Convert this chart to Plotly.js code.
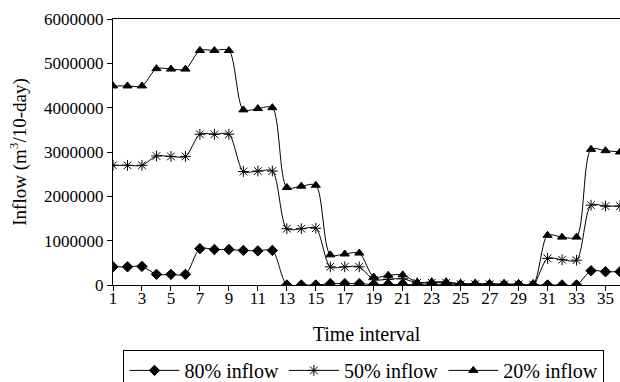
<!DOCTYPE html>
<html>
<head>
<meta charset="utf-8">
<script src="https://cdn.plot.ly/plotly-3.0.1.min.js"></script>
<style>html,body{margin:0;padding:0;background:#fff}#chart{width:620px;height:382px}</style>
</head>
<body>
<div id="chart"></div>
<script>
var intervals = [];
for (var i = 1; i <= 36; i++) intervals.push(i);

var inflow80 = [410000, 410000, 420000, 240000, 240000, 240000, 820000, 800000, 800000, 780000, 770000, 780000,
  0, 0, 0, 30000, 30000, 30000, 10000, 10000, 10000, 5000, 5000, 5000, 5000, 5000, 5000, 5000, 5000, 0,
  0, 0, 0, 320000, 300000, 300000];
var inflow50 = [2700000, 2700000, 2700000, 2910000, 2900000, 2900000, 3400000, 3400000, 3400000, 2560000, 2570000, 2570000,
  1270000, 1270000, 1280000, 410000, 410000, 410000, 120000, 130000, 140000, 50000, 50000, 50000, 20000, 20000, 20000, 15000, 15000, 10000,
  600000, 570000, 560000, 1800000, 1780000, 1780000];
var inflow20 = [4490000, 4490000, 4490000, 4880000, 4870000, 4870000, 5290000, 5290000, 5290000, 3950000, 3980000, 4000000,
  2200000, 2230000, 2250000, 680000, 700000, 720000, 180000, 220000, 230000, 60000, 70000, 70000, 30000, 30000, 30000, 20000, 20000, 10000,
  1120000, 1080000, 1080000, 3060000, 3030000, 3000000];

var xTicks = [1,3,5,7,9,11,13,15,17,19,21,23,25,27,29,31,33,35];
var yTicks = [0,1000000,2000000,3000000,4000000,5000000,6000000];
var seriesNames = ['80% inflow', '50% inflow', '20% inflow'];

var fam = '"Liberation Serif", "Times New Roman", serif';
var tickFont = {family: fam, size: 17, color: '#000'};
var titleFont = {family: fam, size: 20, color: '#000'};
var yTitleFont = {family: fam, size: 19, color: '#000'};
var legFont = {family: fam, size: 20, color: '#000'};

function mk(y, name, sym, size) {
  return {
    x: intervals, y: y, name: name, type: 'scatter', mode: 'lines+markers',
    line: {color: '#000', width: 1, shape: 'spline', smoothing: 0.8},
    marker: {symbol: sym, size: size, color: '#000', line: {color: '#000', width: 1}}
  };
}

var data = [
  mk(inflow80, seriesNames[0], 'diamond', 8),
  mk(inflow50, seriesNames[1], 'asterisk-open', 9),
  mk(inflow20, seriesNames[2], 'triangle-up', 8)
];

var layout = {
  width: 620, height: 382,
  margin: {l: 113, r: 0, t: 19, b: 97, autoexpand: false},
  paper_bgcolor: '#fff', plot_bgcolor: '#fff',
  font: tickFont,
  showlegend: true,
  legend: {
    orientation: 'h', x: 0.495, xanchor: 'center', y: -0.244, yanchor: 'top',
    bordercolor: '#000', borderwidth: 1, font: legFont, tracegroupgap: 0,
    itemwidth: 50, valign: 'top'
  },
  xaxis: {
    range: [1, 36], tickvals: xTicks, ticktext: xTicks.map(String),
    ticks: 'outside', ticklen: 5, tickcolor: '#000', showgrid: false, zeroline: false,
    showline: true, linecolor: '#000', linewidth: 1, mirror: true,
    ticklabelstandoff: -7,
    tickfont: tickFont, title: {text: 'Time interval', font: titleFont, standoff: 19}
  },
  yaxis: {
    range: [0, 6000000], tickvals: yTicks, ticktext: yTicks.map(String),
    ticks: 'outside', ticklen: 5, tickcolor: '#000', showgrid: false, zeroline: false,
    showline: true, linecolor: '#000', linewidth: 1,
    tickfont: tickFont, title: {text: 'Inflow (m<sup>3</sup>/10-day)', font: yTitleFont, standoff: 12}
  }
};

Plotly.newPlot('chart', data, layout, {displayModeBar: false, staticPlot: true});
</script>
</body>
</html>
